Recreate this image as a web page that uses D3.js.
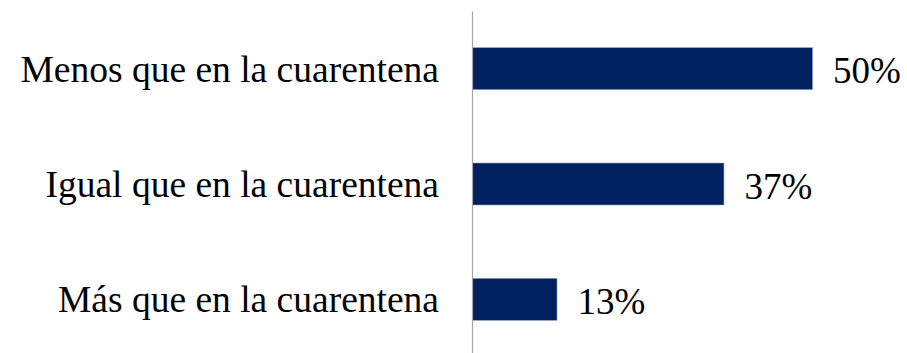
<!DOCTYPE html>
<html>
<head>
<meta charset="utf-8">
<script src="https://cdn.jsdelivr.net/npm/d3@7"></script>
<style>
  body { margin: 0; background: #fff; }
  .label { font-family: "Liberation Serif", "Times New Roman", serif; font-size: 37.5px; fill: #000; }
  .value { font-family: "Liberation Serif", "Times New Roman", serif; font-size: 37px; fill: #000; }
</style>
</head>
<body>
<svg width="907" height="353"></svg>
<script>
var categories = ["Menos que en la cuarentena", "Igual que en la cuarentena", "Más que en la cuarentena"];
var values = [50.3, 37.2, 12.5];
var valueLabels = ["50%", "37%", "13%"];

var svg = d3.select("svg"),
    margin = {top: 11, right: 0, bottom: 0, left: 472},
    width = 340,
    height = 346;

var x = d3.scaleLinear().domain([0, 50.3]).range([0, width]),
    y = d3.scaleBand().domain(categories).range([0, height]).paddingInner(0.636).paddingOuter(0.318);

var g = svg.append("g")
    .attr("transform", "translate(" + margin.left + "," + margin.top + ")");

g.selectAll(".bar")
  .data(values)
  .enter().append("rect")
    .attr("class", "bar")
    .attr("x", 0.5)
    .attr("y", function(d, i) { return y(categories[i]); })
    .attr("width", function(d) { return x(d); })
    .attr("height", y.bandwidth())
    .attr("fill", "#00205f")
    .attr("stroke", "#8a9bbd")
    .attr("stroke-width", 0.6);

// vertical axis line with category labels
var axis = g.append("g")
    .call(d3.axisLeft(y).tickSize(0).tickPadding(33));
axis.select(".domain").attr("stroke", "#a6a6a6").attr("stroke-width", 1.2);
axis.selectAll(".tick text")
    .attr("class", "label")
    .attr("font-family", null)
    .attr("font-size", null)
    .attr("dy", "0.35em");

g.selectAll(".value")
  .data(values)
  .enter().append("text")
    .attr("class", "value")
    .attr("x", function(d) { return x(d) + 21; })
    .attr("y", function(d, i) { return y(categories[i]) + y.bandwidth() / 2; })
    .attr("dy", "0.4em")
    .text(function(d, i) { return valueLabels[i]; });
</script>
</body>
</html>
